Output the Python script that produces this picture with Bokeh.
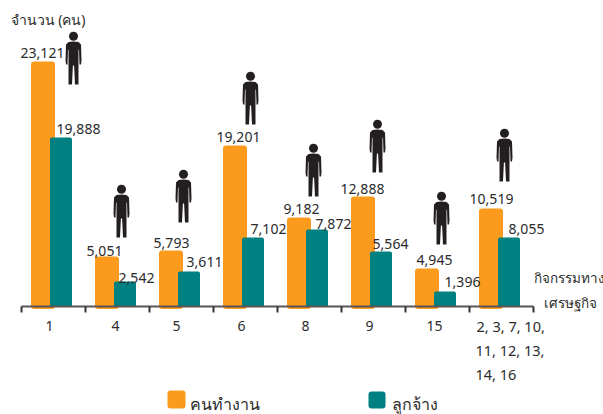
from bokeh.plotting import figure
from bokeh.models import Range1d, FixedTicker
from bokeh.core.properties import value
from bokeh.embed import file_html
from bokeh.resources import INLINE

FONT = "Noto Sans"
TXT = "#2b2b2b"
ORANGE = "#fb9a1d"
TEAL = "#008080"

# data
categories = ["1", "4", "5", "6", "8", "9", "15"]
last_category_lines = ["2, 3, 7, 10,", "11, 12, 13,", "14, 16"]
workers = [23121, 5051, 5793, 19201, 9182, 12888, 4945, 10519]
employees = [19888, 2542, 3611, 7102, 7872, 5564, 1396, 8055]
# the infographic's bars are hand-scaled: drawn heights
workers_drawn = [245, 50, 56, 161, 89, 110, 38, 98]
employees_drawn = [169, 25, 35, 69, 77, 55, 15, 69]
legend_names = ["คนทำงาน", "ลูกจ้าง"]
y_title = "จำนวน (คน)"
x_title = ["กิจกรรมทาง", "เศรษฐกิจ"]

# layout
W, H = 603, 414
AXIS_Y = 306
X0, STEP = 21, 64
n = len(workers)
starts = [X0 + STEP * i for i in range(n)]
cat_label_x = [49, 115, 176, 241, 305, 369, 434]
w_label_xy = [(42, 52), (104, 250), (171, 242), (238, 136), (301, 208), (362, 188), (434, 259), (491, 198)]
e_label_xy = [(78, 128), (136, 277), (204, 261), (268, 228), (333, 223), (390, 243), (462, 281), (526, 228)]
people_xy = [(73, 31), (121, 184), (183, 169), (250, 71), (313, 143), (377, 119), (441, 191), (504, 128)]

p = figure(width=W, height=H, output_backend="svg", toolbar_location=None,
           x_range=Range1d(0, W), y_range=Range1d(AXIS_Y - H, AXIS_Y),
           min_border=0, outline_line_color=None, margin=(0, 0, 0, 0))
p.grid.visible = False
p.yaxis.visible = False


def yy(py):
    return AXIS_Y - py


# bars
p.vbar(x=[s + 21.5 for s in starts], width=24, bottom=-2.5, top=workers_drawn,
       fill_color=ORANGE, line_color=None, border_radius=3)
p.vbar(x=[s + 39.5 for s in starts], width=22, bottom=0, top=employees_drawn,
       fill_color=TEAL, line_color=None, border_radius=(2, 2, 0, 0))

# axis
ax = p.xaxis[0]
ax.fixed_location = 0
ax.bounds = (X0, X0 + STEP * n)
ax.ticker = FixedTicker(ticks=cat_label_x, minor_ticks=[X0 + STEP * i for i in range(n + 1)])
ax.major_label_overrides = {x: c for x, c in zip(cat_label_x, categories)}
ax.major_tick_out = 0
ax.major_tick_in = 0
ax.minor_tick_out = 6
ax.minor_tick_in = 0
ax.minor_tick_line_width = 2
ax.minor_tick_line_color = "#333333"
ax.axis_line_width = 2
ax.axis_line_color = "#555555"
ax.major_label_standoff = 8
ax.major_label_text_font = FONT
ax.major_label_text_font_size = "14px"
ax.major_label_text_color = TXT


def put(xs, pys, texts, align="center", size="14px"):
    p.text(x=xs, y=[yy(v) for v in pys], text=texts, text_font=value(FONT),
           text_font_size=value(size), text_color=TXT, text_align=align, text_baseline="middle")


put([a for a, _ in w_label_xy], [b for _, b in w_label_xy], [f"{v:,}" for v in workers])
put([a for a, _ in e_label_xy], [b for _, b in e_label_xy], [f"{v:,}" for v in employees])
put([476, 475, 475], [325, 349, 373], last_category_lines, align="left", size="14.5px")
put([10], [19], [y_title], align="left")
put([533, 543], [277, 302], x_title, align="left", size="13.5px")
put([189, 391], [403, 403], legend_names, align="left", size="16px")

# legend swatches
p.vbar(x=[176, 376.5], width=[18, 17], bottom=[yy(408), yy(408)], top=[yy(390), yy(391)],
       fill_color=[ORANGE, TEAL], line_color=None, border_radius=3)

# people
half = [(0, 10), (5, 10.5), (7.5, 13), (8, 29), (7.5, 33), (6, 33), (5.5, 18), (5, 18), (5, 36), (5, 53),
        (1.5, 53), (0.6, 34), (0, 34)]
outline = half + [(-a, b) for a, b in reversed(half[:-1])]
xs = [[cx + a for a, _ in outline] for cx, _ in people_xy]
ys = [[yy(top + b) for _, b in outline] for _, top in people_xy]
p.patches(xs, ys, fill_color="#231f20", line_color=None)
p.circle(x=[c for c, _ in people_xy], y=[yy(t + 4.7) for _, t in people_xy], radius=4.5,
         fill_color="#231f20", line_color=None)

open("out.html", "w").write(file_html(p, INLINE))
